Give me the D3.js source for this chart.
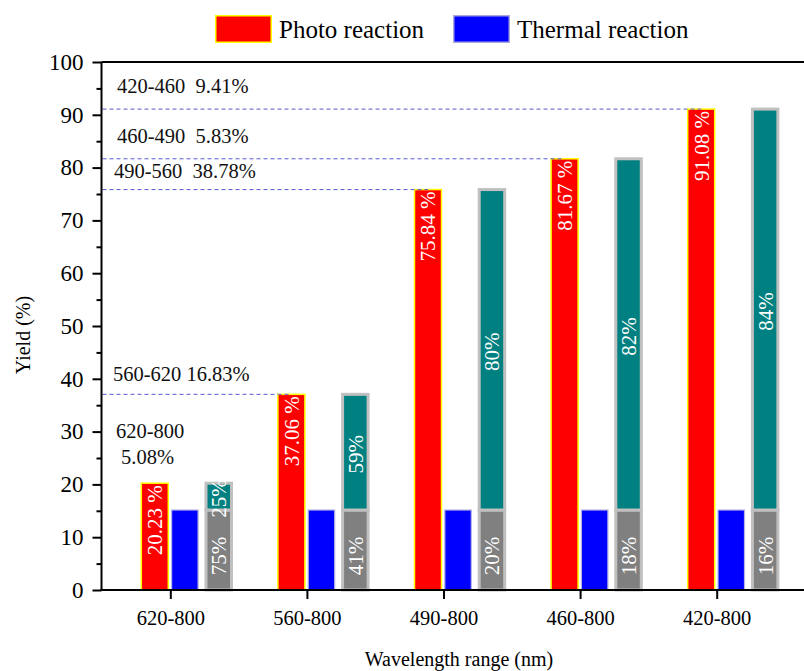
<!DOCTYPE html>
<html>
<head>
<meta charset="utf-8">
<script src="https://cdn.jsdelivr.net/npm/d3@7"></script>
<style>
  html, body { margin: 0; padding: 0; background: #ffffff; }
  svg { display: block; font-family: "Liberation Serif", "Times New Roman", serif; }
  .ann { white-space: pre; }
</style>
</head>
<body>
<svg id="chart" width="804" height="671"></svg>
<script>
// Wavelength windows (nm) and measured yields (%)
const categories = ["620-800", "560-800", "490-800", "460-800", "420-800"];
const photoYield = [20.23, 37.06, 75.84, 81.67, 91.08];
const thermalYield = [15.15, 15.15, 15.15, 15.15, 15.15];
// Share of the photo yield due to the thermal part / the light-driven part
const thermalShareLabels = ["75%", "41%", "20%", "18%", "16%"];
const photoShareLabels = ["25%", "59%", "80%", "82%", "84%"];
// Spectral slice added by each wider window
const bandNames = ["620-800", "560-620", "490-560", "460-490", "420-460"];
const yTickValues = [0, 10, 20, 30, 40, 50, 60, 70, 80, 90, 100];
const yMinorValues = [5, 15, 25, 35, 45, 55, 65, 75, 85, 95];
const legendItems = ["Photo reaction", "Thermal reaction"];

const svg = d3.select("#chart");
const W = 804, H = 671;
const plotLeft = 102.5, plotTop = 62, plotBottom = 590;

const x = d3.scaleBand().domain(categories).range([plotLeft, plotLeft + 5 * 136.6]).padding(0);
const y = d3.scaleLinear().domain([0, 100]).range([plotBottom, plotTop]);
const cx = c => x(c) + x.bandwidth() / 2;

// frame: top edge (plot continues past the right border)
svg.append("line").attr("x1", plotLeft - 1).attr("x2", W).attr("y1", plotTop).attr("y2", plotTop)
  .attr("stroke", "#000").attr("stroke-width", 2);

const rows = categories.map((c, i) => ({
  c, i, photo: photoYield[i], thermal: thermalYield[i],
  tLab: thermalShareLabels[i], pLab: photoShareLabels[i]
}));

// Red photo-reaction bars
svg.append("g").selectAll("rect").data(rows).join("rect")
  .attr("x", d => cx(d.c) - 29.5).attr("width", 27)
  .attr("y", d => y(d.photo)).attr("height", d => y(0) - y(d.photo))
  .attr("fill", "#ff0000").attr("stroke", "#ffff00").attr("stroke-width", 1.5);

// Blue thermal-reaction bars
svg.append("g").selectAll("rect").data(rows).join("rect")
  .attr("x", d => cx(d.c) + 0.8).attr("width", 26.5)
  .attr("y", d => y(d.thermal)).attr("height", d => y(0) - y(d.thermal))
  .attr("fill", "#0000ff").attr("stroke", "#b4b4e6").attr("stroke-width", 1.2);

// Split bars: thermal part (grey) + light-driven part (teal)
const split = svg.append("g");
split.selectAll("rect.th").data(rows).join("rect").attr("class", "th")
  .attr("x", d => cx(d.c) + 35.2).attr("width", 25.5)
  .attr("y", d => y(d.thermal)).attr("height", d => y(0) - y(d.thermal))
  .attr("fill", "#808080").attr("stroke", "#c0c0c0").attr("stroke-width", 3);
split.selectAll("rect.ph").data(rows).join("rect").attr("class", "ph")
  .attr("x", d => cx(d.c) + 35.2).attr("width", 25.5)
  .attr("y", d => y(d.photo)).attr("height", d => y(d.thermal) - y(d.photo))
  .attr("fill", "#008080").attr("stroke", "#c0c0c0").attr("stroke-width", 3);

// Value labels inside bars (rotated, white)
const lab = svg.append("g").attr("fill", "#ffffff").attr("font-size", 21);
lab.selectAll("text.pv").data(rows).join("text").attr("class", "pv")
  .attr("transform", d => `translate(${cx(d.c) - 16},${y(d.photo) + 2}) rotate(-90)`)
  .attr("text-anchor", "end").attr("dy", "0.35em")
  .text(d => d.photo.toFixed(2) + " %");
lab.selectAll("text.tl").data(rows).join("text").attr("class", "tl")
  .attr("transform", d => `translate(${cx(d.c) + 48},${(y(0) + y(d.thermal)) / 2 + 6}) rotate(-90)`)
  .attr("text-anchor", "middle").attr("dy", "0.35em")
  .text(d => d.tLab);
lab.selectAll("text.pl").data(rows).join("text").attr("class", "pl")
  .attr("transform", d => `translate(${cx(d.c) + 48},${(y(d.thermal) + y(d.photo)) / 2 + 2}) rotate(-90)`)
  .attr("text-anchor", "middle").attr("dy", "0.35em")
  .text(d => d.pLab);

// Dashed guides from the axis to each photo bar (beyond the first)
svg.append("g").selectAll("line").data(rows.slice(1)).join("line")
  .attr("x1", plotLeft).attr("x2", d => cx(d.c) - 16)
  .attr("y1", d => y(d.photo)).attr("y2", d => y(d.photo))
  .attr("stroke", "#5a5ad2").attr("stroke-width", 1).attr("stroke-dasharray", "4,3");

// Yield gained by each spectral slice
const gain = rows.map((d, i) => (d.photo - (i ? photoYield[i - 1] : d.thermal)).toFixed(2));
const annG = svg.append("g").attr("font-size", 20.5).attr("fill", "#111");
const annLayout = [
  null,
  { dx: 113, dy: -13, sep: " " },
  { dx: 114, dy: -11.5, sep: "  " },
  { dx: 117, dy: -15.5, sep: "  " },
  { dx: 117, dy: -16, sep: "  " }
];
rows.forEach((d, i) => {
  if (i === 0) {
    annG.append("text").attr("x", 116).attr("y", y(d.photo) - 45).text(bandNames[i]);
    annG.append("text").attr("x", 121).attr("y", y(d.photo) - 19).text(gain[i] + "%");
  } else {
    const L = annLayout[i];
    annG.append("text").attr("class", "ann").attr("x", L.dx).attr("y", y(d.photo) + L.dy)
      .text(bandNames[i] + L.sep + gain[i] + "%");
  }
});

// Y axis
const yAxis = svg.append("g").attr("transform", `translate(${plotLeft - 1},0)`)
  .call(d3.axisLeft(y).tickValues(yTickValues).tickSize(9).tickPadding(9));
yAxis.select(".domain").attr("stroke-width", 2).attr("d", `M0,${plotTop}V${plotBottom + 1}`);
yAxis.selectAll(".tick line").attr("stroke-width", 2);
yAxis.selectAll("text").attr("font-size", 23).attr("font-family", "Liberation Serif").attr("fill", "#000");
const yMinor = svg.append("g").attr("transform", `translate(${plotLeft - 1},0)`)
  .call(d3.axisLeft(y).tickValues(yMinorValues).tickSize(5).tickFormat(""));
yMinor.select(".domain").remove();
yMinor.selectAll(".tick line").attr("stroke-width", 2);

// X axis
const xAxis = svg.append("g").attr("transform", `translate(0,${plotBottom})`)
  .call(d3.axisBottom(x).tickSize(9).tickPadding(11));
xAxis.select(".domain").attr("stroke-width", 2).attr("d", `M${plotLeft - 2},0H${W}`);
xAxis.selectAll(".tick line").attr("stroke-width", 2);
xAxis.selectAll("text").attr("font-size", 20.5).attr("font-family", "Liberation Serif").attr("fill", "#000");

// Axis titles
svg.append("text").attr("x", 459).attr("y", 666).attr("text-anchor", "middle")
  .attr("font-size", 20).text("Wavelength range (nm)");
svg.append("text").attr("transform", "translate(30,335) rotate(-90)").attr("text-anchor", "middle")
  .attr("font-size", 20).text("Yield (%)");

// Legend
const legend = svg.append("g");
const legendFill = ["#ff0000", "#0000ff"];
const legendStroke = ["#ffff00", "#a8a8dc"];
const legendX = [215, 453];
legendItems.forEach((t, i) => {
  legend.append("rect").attr("x", legendX[i] + 0.75).attr("y", 15.75).attr("width", 55.5).attr("height", 26.5)
    .attr("fill", legendFill[i]).attr("stroke", legendStroke[i]).attr("stroke-width", 1.5);
  legend.append("text").attr("x", legendX[i] + 64).attr("y", 37.5).attr("font-size", 25).text(t);
});
</script>
</body>
</html>
